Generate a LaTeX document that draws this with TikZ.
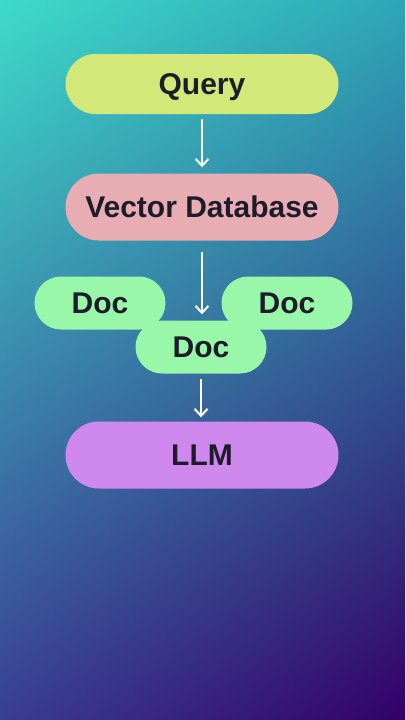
\documentclass[tikz,border=0pt]{standalone}
\usepackage{fontspec}
\setmainfont{Liberation Sans}
\usepackage{xcolor}
\usepackage{tikz}
\usetikzlibrary{
  arrows.meta,
  positioning,
  shadings
}

\definecolor{bgtl}{HTML}{3DDBC8}
\definecolor{bgtr}{HTML}{2EA6B8}
\definecolor{bgbl}{HTML}{3A3D94}
\definecolor{bgbr}{HTML}{340068}
\definecolor{queryfill}{HTML}{D4E87A}
\definecolor{dbfill}{HTML}{E8ADB3}
\definecolor{docfill}{HTML}{98F7A8}
\definecolor{llmfill}{HTML}{CF88EE}
\definecolor{inkdark}{HTML}{1C1C2A}

\tikzset{
  pill/.style={minimum height=#1, rounded corners=#1/2, inner sep=0pt,
    text=inkdark, font=\fontsize{30}{35}\selectfont\bfseries,
    text height=21.5pt, text depth=0pt},
  flow/.style={draw=white, line width=2pt,
    -{Straight Barb[length=7pt, width=13pt]}}
}

\begin{document}
\begin{tikzpicture}[x=1pt, y=-1pt]
\shade[upper left=bgtl, upper right=bgtr, lower left=bgbl, lower right=bgbr]
  (0,0) rectangle (405,720);
\useasboundingbox (0,0) rectangle (405,720);

\node[pill=60pt, fill=queryfill, minimum width=273pt] (query) at (202,84) {Query};
\node[pill=67pt, fill=dbfill, minimum width=273pt] (vecdb) at (202,207) {Vector Database};

% retrieved documents
\node[pill=53pt, fill=docfill, minimum width=131pt] (docleft) at (100,303) {Doc};
\node[pill=53pt, fill=docfill, minimum width=131pt] (docright) at (287,303) {Doc};
\node[pill=53pt, fill=docfill, minimum width=131pt] (docmid) at (201,347) {Doc};

\node[pill=67pt, fill=llmfill, minimum width=273pt] (llm) at (202,455) {LLM};

\draw[flow, shorten <=5pt, shorten >=6pt] (query.south) -- (vecdb.north);
\draw[flow, shorten <=11pt, shorten >=6pt] (vecdb.south) -- (vecdb.south |- docmid.north);
\draw[flow, shorten <=5pt, shorten >=4pt] (docmid.south) -- (docmid.south |- llm.north);
\end{tikzpicture}
\end{document}
